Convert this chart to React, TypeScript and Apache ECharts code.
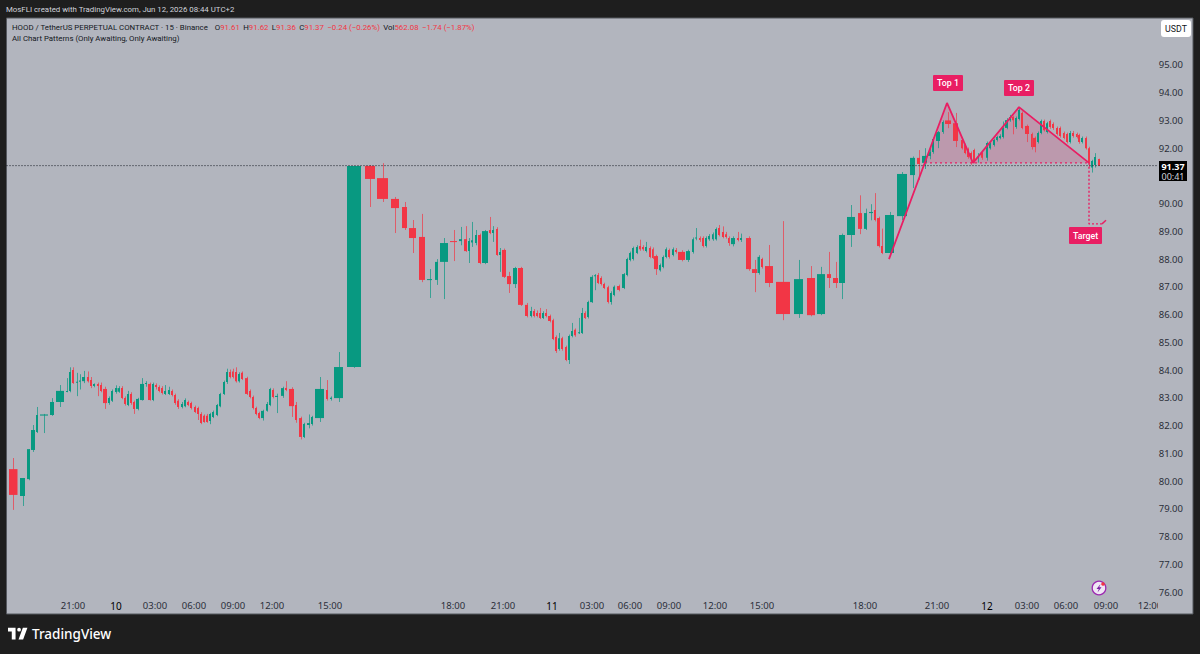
import React, { useEffect, useRef } from "react";
import * as echarts from "echarts";

type Row = [number, number, number, number, number, number];
// Each row: cumulative volume at open, cumulative volume at close, open, high, low, close
const sessionJun9: Row[] = [
  [9, 17.5, 80.43, 80.83, 78.96, 79.5], [20, 25, 79.46, 80.11, 79.1, 80.11], [27, 30, 80.07, 81.15, 80.03, 81.15],
  [31, 35, 81.12, 82.02, 81.05, 81.84], [36, 38, 81.77, 82.67, 81.73, 82.38], [40, 48, 82.36, 82.42, 81.73, 82.4],
  [50, 54, 82.38, 82.99, 82.35, 82.85], [56, 64, 82.85, 83.46, 82.67, 83.25], [66, 68, 83.21, 83.71, 83.2, 83.25],
  [69, 71, 83.25, 84.1, 83.2, 83.93], [72, 74, 84.0, 84.1, 83.5, 83.53], [76, 78, 83.55, 83.9, 83.06, 83.58],
  [79, 80.5, 83.58, 83.85, 83.3, 83.62], [82, 85, 83.6, 83.97, 83.53, 83.75], [87, 89, 83.75, 83.95, 83.55, 83.6],
  [90, 92, 83.64, 83.75, 83.35, 83.43], [93, 95, 83.43, 83.52, 83.38, 83.5], [97, 99, 83.5, 83.55, 83.06, 83.43],
  [100, 102, 83.46, 83.55, 83.2, 83.25], [103, 107, 83.32, 83.4, 82.6, 82.81], [108, 110, 82.81, 83.05, 82.75, 82.99],
  [111, 113, 82.89, 83.3, 82.85, 83.25], [115, 117, 83.21, 83.45, 83.15, 83.35], [117.5, 120, 83.22, 83.42, 83.18, 83.35],
];
const sessionJun10a: Row[] = [
  [121, 123, 83.35, 83.42, 82.95, 82.99], [124, 126, 82.99, 83.05, 82.72, 82.78], [127, 129, 82.74, 83.25, 82.7, 83.14],
  [130, 132, 83.14, 83.2, 82.75, 82.81], [133, 135, 82.85, 82.9, 82.42, 82.6], [136, 139, 82.6, 83.0, 82.55, 82.96],
  [140, 144, 82.92, 83.71, 82.9, 83.5], [145, 147, 83.5, 83.6, 83.4, 83.53], [148, 151, 83.5, 83.55, 82.9, 82.92],
  [152, 154, 82.92, 83.55, 82.88, 83.5], [155, 157, 83.46, 83.52, 83.3, 83.39], [158, 160, 83.39, 83.45, 83.2, 83.25],
  [161, 163, 83.35, 83.42, 83.12, 83.17], [164, 166, 83.14, 83.46, 83.1, 83.25], [168, 170, 83.14, 83.4, 83.1, 83.28],
  [171, 173, 83.25, 83.3, 83.05, 83.1], [174, 176, 83.1, 83.15, 82.75, 82.81], [177, 179, 82.89, 82.95, 82.6, 82.67],
  [181, 183, 82.67, 82.85, 82.62, 82.78], [184, 186, 82.7, 82.98, 82.66, 82.92], [187, 189, 82.85, 82.9, 82.7, 82.74],
  [190, 192, 82.81, 82.86, 82.58, 82.63], [194, 196, 82.67, 82.72, 82.45, 82.49], [197, 199, 82.63, 82.68, 82.2, 82.42],
  [200, 202, 82.42, 82.48, 82.05, 82.09], [203, 205, 82.35, 82.4, 82.1, 82.13], [206, 208, 82.35, 82.42, 82.1, 82.13],
  [209, 211, 82.16, 82.46, 82.05, 82.42], [212, 214, 82.31, 82.54, 82.27, 82.49], [216, 218, 82.38, 82.78, 82.34, 82.74],
  [219, 221, 82.7, 83.18, 82.66, 83.14], [223, 225, 83.14, 83.62, 83.1, 83.57], [226, 228, 83.57, 84.05, 83.5, 83.93],
  [229, 231, 83.93, 84.02, 83.7, 83.75], [232, 233.5, 83.95, 84.05, 83.7, 83.75], [235, 237, 83.93, 84.1, 83.55, 83.6],
  [238, 240, 83.6, 83.92, 83.55, 83.86], [241, 243, 83.9, 83.95, 83.64, 83.68], [245, 248, 83.71, 83.76, 83.1, 83.14],
  [249, 251, 83.25, 83.3, 82.98, 83.03], [252, 254, 83.03, 83.08, 82.58, 82.63], [255, 257, 82.63, 82.68, 82.37, 82.42],
  [258, 260, 82.45, 82.5, 82.23, 82.27], [261, 264, 82.27, 82.57, 82.18, 82.53], [266, 268, 82.53, 82.85, 82.5, 82.78],
  [269, 271, 82.74, 83.36, 82.7, 83.32], [272, 274, 83.28, 83.34, 82.98, 83.03], [275, 278, 83.03, 83.15, 82.45, 83.07],
  [281, 284, 83.07, 83.4, 83.0, 83.35], [285, 287, 83.35, 83.6, 83.24, 83.28], [289, 294, 83.32, 83.38, 82.31, 82.7],
  [295, 297, 82.74, 82.85, 82.1, 82.2], [299, 302, 82.27, 82.32, 81.5, 81.59], [303, 305, 81.59, 82.1, 81.55, 82.06],
  [307, 310, 82.02, 82.4, 81.9, 82.09], [311, 313, 82.06, 82.35, 82.0, 82.31], [315, 324, 82.27, 83.75, 82.13, 83.32],
  [326, 328, 83.28, 83.64, 82.9, 82.96], [330, 332, 82.96, 83.05, 82.9, 83.0], [334, 343, 82.99, 84.65, 82.85, 84.11],
  [347, 361, 84.11, 91.36, 84.08, 91.36], [365, 375, 91.36, 91.39, 89.88, 90.89], [377, 388, 90.92, 91.46, 90.06, 90.17],
  [391, 399, 90.17, 90.24, 88.94, 89.84], [402, 407, 89.88, 90.06, 89.05, 89.12], [409, 416, 89.12, 89.41, 88.22, 88.76],
  [419, 425, 88.8, 89.63, 87.17, 87.25], [427, 432, 87.25, 87.64, 86.6, 87.28], [435, 438, 87.25, 88.0, 87.07, 87.9],
  [440, 448, 87.9, 88.76, 86.56, 88.58], [450, 457, 88.65, 89.05, 87.93, 88.62], [459, 462, 88.65, 89.16, 88.5, 88.72],
  [464, 467, 88.72, 89.19, 88.26, 88.29], [468, 470, 88.29, 88.76, 87.86, 88.65], [471, 473, 88.6, 89.34, 88.44, 88.68],
  [475, 477, 88.58, 89.05, 88.5, 88.87], [478, 481, 88.87, 88.92, 87.82, 87.86], [482, 488, 87.86, 89.05, 87.82, 89.01],
  [489, 491, 89.05, 89.52, 88.9, 88.94], [492, 494, 88.94, 89.19, 88.62, 89.05], [496, 498, 89.09, 89.15, 88.12, 88.15],
  [499, 501, 88.15, 88.4, 87.54, 88.26], [502, 506, 88.33, 88.38, 87.32, 87.36], [507, 511, 87.39, 87.54, 86.78, 87.1],
  [513, 517, 87.1, 87.72, 86.96, 87.68], [518, 523, 87.68, 87.72, 86.31, 86.35], [525, 528, 86.35, 86.42, 85.9, 85.95],
  [530, 532, 85.95, 86.28, 85.9, 86.13], [533, 535, 86.13, 86.2, 85.9, 85.95], [536, 538, 86.06, 86.15, 85.9, 85.95],
  [539, 541, 86.06, 86.24, 85.84, 85.88], [542, 544, 85.88, 86.12, 85.84, 86.06], [545, 547, 86.06, 86.2, 85.9, 85.95],
  [548, 551, 85.95, 86.0, 85.72, 85.77],
];
const sessionJun11: Row[] = [
  [552, 554, 85.8, 85.85, 85.08, 85.12], [555, 557, 85.19, 85.25, 84.62, 84.69], [558, 560, 84.76, 85.34, 84.7, 85.15],
  [561, 563, 85.15, 85.2, 84.7, 84.76], [565, 567, 84.83, 84.88, 84.32, 84.36], [568, 570, 84.36, 85.28, 84.22, 85.23],
  [571, 573, 85.23, 85.7, 85.18, 85.41], [574, 576, 85.45, 85.5, 85.2, 85.26], [578, 580, 85.34, 85.88, 85.3, 85.36],
  [581, 583, 85.34, 86.24, 85.3, 86.06], [584, 585.5, 86.06, 86.12, 85.84, 85.88], [587, 589, 85.91, 86.5, 85.86, 86.45],
  [590, 593, 86.45, 87.42, 86.42, 87.36], [594, 596, 87.38, 87.46, 86.88, 87.42], [597, 599, 87.43, 87.5, 87.1, 87.14],
  [600, 602, 87.32, 87.38, 87.05, 87.1], [603, 605, 87.1, 87.15, 86.92, 86.96], [607, 609, 86.99, 87.04, 86.4, 86.45],
  [610, 612, 86.45, 86.84, 86.36, 86.78], [613, 615, 86.71, 87.05, 86.66, 87.0], [617, 620, 87.03, 87.08, 86.84, 86.89],
  [622, 625, 86.96, 87.5, 86.92, 87.46], [626, 628, 87.43, 88.05, 87.38, 88.0], [629, 631, 87.97, 88.27, 87.92, 88.22],
  [632, 634, 88.0, 88.45, 87.95, 88.4], [636, 638, 88.22, 88.5, 88.18, 88.44], [639, 641, 88.47, 88.7, 88.3, 88.36],
  [642, 644, 88.44, 88.5, 88.3, 88.36], [645, 647, 88.29, 88.62, 88.24, 88.44], [649, 651, 88.4, 88.46, 88.03, 88.08],
  [652, 653.5, 88.36, 88.42, 88.0, 88.04], [654, 658, 88.11, 88.16, 87.43, 87.64], [659, 661, 87.6, 87.84, 87.55, 87.79],
  [662, 664, 87.72, 88.13, 87.67, 88.08], [665, 667, 88.08, 88.42, 88.03, 88.36], [668, 670, 88.33, 88.38, 88.02, 88.08],
  [672, 674, 88.15, 88.42, 88.1, 88.36], [675, 677, 88.33, 88.4, 88.2, 88.26], [678, 685, 88.26, 88.32, 87.92, 87.97],
  [686, 690, 87.97, 88.34, 87.9, 88.29], [692, 694, 88.26, 88.78, 88.2, 88.72], [695, 697, 88.74, 89.12, 88.68, 88.78],
  [699, 700.5, 88.76, 88.82, 88.62, 88.69], [702, 704, 88.76, 88.82, 88.42, 88.47], [705, 707, 88.47, 88.82, 88.42, 88.76],
  [708, 710, 88.72, 88.9, 88.66, 88.83], [712, 713.5, 88.72, 88.96, 88.66, 88.9], [715, 717, 88.72, 89.14, 88.67, 89.09],
  [718, 720, 89.12, 89.23, 88.82, 88.87], [722, 724, 88.98, 89.18, 88.75, 88.8], [725, 727, 88.9, 88.98, 88.74, 88.8],
  [728, 729.5, 88.76, 88.82, 88.48, 88.58], [731, 735, 88.54, 88.82, 88.46, 88.76], [737, 739, 88.76, 88.98, 88.64, 88.69],
  [740, 742, 88.69, 88.92, 88.62, 88.76], [746, 751, 88.76, 88.82, 87.58, 87.64], [752, 757, 87.64, 87.97, 86.81, 87.5],
  [757.5, 760, 87.5, 88.14, 87.44, 88.08], [761, 763, 88.0, 88.05, 87.66, 87.72], [765, 773, 87.75, 88.51, 86.99, 87.14],
  [776, 790, 87.18, 89.37, 85.8, 86.02], [794, 803, 86.02, 87.97, 85.88, 87.28], [807, 815, 87.32, 87.75, 85.94, 85.98],
  [817, 825, 86.02, 87.72, 85.98, 87.46], [827, 831, 87.46, 88.26, 86.96, 87.32], [833, 838, 87.32, 87.9, 86.96, 87.14],
  [839, 845, 87.14, 88.92, 86.56, 88.87], [847, 855, 88.87, 89.95, 88.44, 89.52], [858, 862, 89.66, 90.3, 88.9, 89.09],
  [864, 867, 89.09, 89.82, 89.05, 89.66], [869, 873, 89.66, 89.98, 89.4, 89.7], [874, 876, 89.77, 90.38, 89.36, 89.41],
  [877, 880, 89.48, 89.53, 88.42, 88.47], [881, 883, 88.47, 89.1, 88.18, 88.22],
];
const sessionJun12: Row[] = [
  [885, 894, 88.22, 89.7, 88.18, 89.59], [897, 907, 89.55, 91.14, 89.41, 91.07], [910, 915, 91.03, 91.7, 90.56, 91.65],
  [917, 920, 91.65, 91.93, 90.85, 91.43], [922, 927, 91.47, 92.0, 91.25, 91.72], [928, 931, 91.72, 92.05, 91.6, 91.86],
  [932, 934, 91.86, 92.38, 91.8, 92.33], [936, 940, 92.26, 92.62, 92.0, 92.58], [942, 943.5, 92.58, 93.0, 92.52, 92.94],
  [945, 951, 93.0, 93.3, 92.72, 92.87], [953, 958, 92.9, 93.27, 92.04, 92.26], [961, 963, 92.29, 92.34, 91.95, 92.0],
  [964, 966, 92.11, 92.16, 91.78, 91.83], [967, 969, 91.97, 92.02, 91.62, 91.68], [970, 972, 91.83, 91.88, 91.4, 91.65],
  [973, 975, 91.93, 91.98, 91.45, 91.54], [977, 979, 91.66, 91.82, 91.48, 91.69], [981, 983, 91.83, 91.9, 91.58, 91.65],
  [986, 988, 91.65, 92.24, 91.55, 92.19], [989, 991, 92.0, 92.24, 91.95, 92.19], [993, 995, 92.11, 92.34, 92.06, 92.29],
  [996, 998, 92.29, 92.45, 92.24, 92.4], [999, 1001, 92.37, 92.5, 92.32, 92.44], [1002, 1004, 92.4, 92.96, 92.35, 92.73],
  [1005, 1008, 92.73, 93.08, 92.68, 93.01], [1009, 1011, 93.01, 93.2, 92.95, 93.12], [1012, 1014, 93.12, 93.17, 92.5, 93.01],
  [1015, 1017, 92.76, 93.14, 92.7, 93.09], [1018, 1020, 93.05, 93.48, 93.0, 93.38], [1021, 1023, 93.27, 93.32, 92.68, 92.73],
  [1025, 1029, 92.8, 92.85, 92.22, 92.51], [1031, 1032.5, 92.51, 92.56, 91.95, 92.04], [1033, 1036, 92.37, 92.42, 91.85, 92.04],
  [1037, 1039, 92.22, 92.6, 92.17, 92.55], [1040, 1042, 92.55, 93.03, 92.5, 92.98], [1043, 1045, 92.98, 93.03, 92.6, 92.65],
  [1046, 1048, 92.58, 92.95, 92.53, 92.9], [1049, 1051, 92.98, 93.03, 92.7, 92.76], [1052, 1054, 92.87, 92.93, 92.66, 92.73],
  [1056, 1058, 92.73, 92.78, 92.46, 92.51], [1059, 1061, 92.73, 92.78, 92.38, 92.44], [1063, 1064.5, 92.55, 92.6, 92.32, 92.37],
  [1066, 1068, 92.51, 92.56, 92.17, 92.22], [1069, 1071, 92.22, 92.62, 92.17, 92.55], [1072, 1074, 92.55, 92.62, 92.38, 92.44],
  [1076, 1077.5, 92.51, 92.56, 92.35, 92.4], [1078, 1080, 92.47, 92.52, 92.16, 92.22], [1081, 1083, 92.22, 92.42, 92.17, 92.37],
  [1085, 1087, 92.37, 92.42, 91.95, 92.0], [1088, 1090, 92.0, 92.05, 91.32, 91.47], [1091, 1093, 91.3, 91.58, 91.12, 91.54],
  [1094, 1096, 91.39, 91.82, 91.3, 91.68], [1098, 1100, 91.61, 91.62, 91.36, 91.37],
];
const candles: Row[] = [...sessionJun9, ...sessionJun10a, ...sessionJun11, ...sessionJun12];

// 96.00 and 91.00 sit behind the currency button and the last-price box in the reference.
const priceTicks = [95, 94, 93, 92, 90, 89, 88, 87, 86, 85, 84, 83, 82, 81, 80, 79, 78, 77, 76];
const timeTickValues = [73, 116, 155, 194, 233, 272, 330, 453, 503, 552, 592, 630, 669, 715, 762, 865, 937, 987, 1027, 1066, 1106, 1150];
const timeTickLabels = ["21:00", "10", "03:00", "06:00", "09:00", "12:00", "15:00", "18:00", "21:00", "11", "03:00", "06:00", "09:00", "12:00", "15:00", "18:00", "21:00", "12", "03:00", "06:00", "09:00", "12:00"];
const dayLabels = ["10", "11", "12"];

const lastPrice = 91.37;
const patternVol = [889, 947, 973, 1019, 1089];
const patternPrice = [88.0, 93.63, 91.47, 93.48, 91.47];
const neckStartVol = 925;
const targetPrice = 89.27;
const targetVol = [1089, 1089, 1102, 1106];
const targetPrices = [91.47, targetPrice, targetPrice, 89.4];

const UP = "#089981";
const DOWN = "#f23645";
const PINK = "#e91e63";
const PLOT = "#b2b5be";
const FRAME = "#1e1e1e";
const FONT = '"Noto Sans", "Open Sans", sans-serif';
const SMALL = 'Roboto, "Noto Sans", sans-serif';

echarts.graphic.registerShape(
  "tvLogo",
  echarts.graphic.extendPath("M14 6H0v7h7v15h7V6zM28 28h-8.5l8-22H36l-8 22zM24 9.5a3.5 3.5 0 1 1-7 0a3.5 3.5 0 1 1 7 0z", {}) as any
);

function renderCandle(params: any, api: any) {
  const start = api.value(0), end = api.value(1);
  const o = api.value(2), h = api.value(3), l = api.value(4), c = api.value(5);
  const left = api.coord([start, o])[0];
  const right = api.coord([end, o])[0];
  const mid = Math.round((left + right) / 2) + 0.5;
  const yo = api.coord([start, o])[1], yc = api.coord([start, c])[1];
  const yh = api.coord([start, h])[1], yl = api.coord([start, l])[1];
  const color = c >= o ? UP : DOWN;
  const top = Math.min(yo, yc);
  const height = Math.max(Math.abs(yo - yc), 1);
  return {
    type: "group",
    children: [
      { type: "line", shape: { x1: mid, y1: yh, x2: mid, y2: yl }, style: { stroke: color, lineWidth: 1, opacity: 0.7 } },
      { type: "rect", shape: { x: left, y: top, width: Math.max(right - left, 1.5), height }, style: { fill: color } },
    ],
  };
}

function renderPatternFill(params: any, api: any) {
  const pts = [
    [neckStartVol, patternPrice[2]],
    [patternVol[1], patternPrice[1]],
    [patternVol[2], patternPrice[2]],
    [patternVol[3], patternPrice[3]],
    [patternVol[4], patternPrice[4]],
  ].map((p) => api.coord(p));
  return { type: "polygon", shape: { points: pts }, style: { fill: "rgba(233,30,99,0.18)" } };
}

function labelBox(x: number, y: number, w: number, h: number, text: string) {
  return [
    { type: "rect", z: 40, shape: { x, y, width: w, height: h, r: 1 }, style: { fill: PINK } },
    { type: "text", z: 41, x: x + w / 2, y: y + h / 2, style: { text, fill: "#fff", font: `500 8.8px ${SMALL}`, align: "center", verticalAlign: "middle" } },
  ];
}

export default function App() {
  const ref = useRef<HTMLDivElement>(null);
  useEffect(() => {
    document.body.style.margin = "0";
    document.body.style.background = FRAME;
    const chart = echarts.init(ref.current!, undefined, { renderer: "svg" });
    const ohlc = (s: string) => `{r|${s}}`;
    chart.setOption({
      animation: false,
      backgroundColor: FRAME,
      grid: { left: 0, right: 0, top: 9.46, height: 610.28, containLabel: false },
      xAxis: {
        type: "value", min: 0, max: 1200, z: 3,
        splitLine: { show: false }, axisLine: { show: false }, axisTick: { show: false },
        axisLabel: {
          inside: true, margin: 9, customValues: timeTickValues, hideOverlap: false, showMinLabel: true, showMaxLabel: true,
          formatter: (v: number) => {
            const t = timeTickLabels[timeTickValues.indexOf(v)];
            return dayLabels.includes(t) ? `{d|${t}}` : `{t|${t}}`;
          },
          rich: {
            t: { fontSize: 9.5, color: "#2a2e39", fontFamily: FONT },
            d: { fontSize: 10, color: "#000000", fontFamily: FONT },
          },
        },
      },
      yAxis: {
        type: "value", position: "right", min: 75, max: 97, interval: 1, z: 3,
        splitLine: { show: false }, axisLine: { show: false }, axisTick: { show: false },
        axisLabel: {
          inside: true, margin: 17, showMinLabel: false, showMaxLabel: false,
          color: "#2a2e39", fontSize: 9.5, fontFamily: FONT,
          formatter: (v: number) => (priceTicks.includes(v) ? v.toFixed(2) : ""),
        },
      },
      series: [
        {
          type: "custom", renderItem: renderPatternFill, data: [[patternVol[1], patternPrice[1]]], z: 1, silent: true, clip: false,
        },
        {
          type: "custom", renderItem: renderCandle, data: candles, z: 2, silent: true, clip: false,
          dimensions: ["s", "e", "o", "h", "l", "c"], encode: { x: [0, 1], y: [2, 3, 4, 5] },
        },
        {
          type: "line", data: patternVol.map((v, i) => [v, patternPrice[i]]), showSymbol: false, z: 3, silent: true,
          lineStyle: { color: PINK, width: 1.8 },
        },
        {
          type: "line", data: [[neckStartVol, patternPrice[2]], [patternVol[4], patternPrice[4]]], showSymbol: false, z: 3, silent: true,
          lineStyle: { color: PINK, width: 1.2, type: [2, 3] },
        },
        {
          type: "line", data: targetVol.slice(0, 3).map((v, i) => [v, targetPrices[i]]), showSymbol: false, z: 3, silent: true,
          lineStyle: { color: PINK, width: 1.4, type: [2, 2] },
        },
        {
          type: "line", data: targetVol.slice(2).map((v, i) => [v, targetPrices[i + 2]]), showSymbol: false, z: 3, silent: true,
          lineStyle: { color: PINK, width: 1.4 },
        },
        {
          type: "line", data: [[6.5, lastPrice], [1157, lastPrice]], showSymbol: false, z: 2, silent: true,
          lineStyle: { color: "#131722", width: 1, type: [1, 2] },
        },
      ],
      graphic: [
        { type: "rect", z: -1, shape: { x: 6.5, y: 18, width: 1186.5, height: 596 }, style: { fill: PLOT, stroke: "#55585f", lineWidth: 1 } },
        { type: "rect", z: 30, shape: { x: 1158, y: 597, width: 34, height: 16 }, style: { fill: PLOT } },
        { type: "text", z: 40, x: 6, y: 9, style: { text: "MosFLI created with TradingView.com, Jun 12, 2026 08:44 UTC+2", fill: "#d1d4dc", font: `7.85px ${SMALL}`, verticalAlign: "middle" } },
        {
          type: "text", z: 40, x: 12, y: 27,
          style: {
            text: `{k|HOOD / TetherUS PERPETUAL CONTRACT · 15 · Binance}  {k|O}${ohlc("91.61")} {k|H}${ohlc("91.62")} {k|L}${ohlc("91.36")} {k|C}${ohlc("91.37")} ${ohlc("−0.24 (−0.26%)")} {k|Vol}${ohlc("562.08")} ${ohlc("−1.74 (−1.87%)")}`,
            verticalAlign: "middle",
            rich: { k: { fill: "#131722", font: `7.85px ${SMALL}` }, r: { fill: DOWN, font: `7.85px ${SMALL}` } },
          },
        },
        { type: "text", z: 40, x: 12, y: 38, style: { text: "All Chart Patterns (Only Awaiting, Only Awaiting)", fill: "#131722", font: `7.85px ${SMALL}`, verticalAlign: "middle" } },
        ...labelBox(933, 75, 30, 16, "Top 1"),
        ...labelBox(1004, 80, 30, 16, "Top 2"),
        ...labelBox(1069, 227, 33, 17, "Target"),
        { type: "rect", z: 40, shape: { x: 1161, y: 20, width: 30, height: 17, r: 3 }, style: { fill: "#ffffff" } },
        { type: "text", z: 41, x: 1176, y: 29, style: { text: "USDT", fill: "#131722", font: `8.8px ${SMALL}`, align: "center", verticalAlign: "middle" } },
        { type: "rect", z: 40, shape: { x: 1159, y: 161, width: 28, height: 20 }, style: { fill: "#000000" } },
        {
          type: "text", z: 41, x: 1173, y: 171,
          style: {
            text: "{a|91.37}\n{b|00:41}", align: "center", verticalAlign: "middle",
            rich: {
              a: { fill: "#ffffff", font: `bold 9px ${FONT}`, lineHeight: 10, align: "center" },
              b: { fill: "#d1d4dc", font: `9px ${FONT}`, lineHeight: 10, align: "center" },
            },
          },
        },
        { type: "circle", z: 40, shape: { cx: 1099, cy: 588, r: 6.8 }, style: { fill: "#f0e6f5", stroke: "#9c27b0", lineWidth: 1.3 } },
        { type: "polygon", z: 41, shape: { points: [[1100.5, 584], [1096.5, 589], [1098.8, 589], [1097.5, 592.5], [1101.5, 587.2], [1099.2, 587.2]] }, style: { fill: "#7b1fa2" } },
        { type: "circle", z: 42, shape: { cx: 1103, cy: 584, r: 1.8 }, style: { fill: "#f23645" } },
        { type: "tvLogo", z: 40, x: 8, y: 624.5, scaleX: 0.54, scaleY: 0.54, style: { fill: "#ffffff" } },
        { type: "text", z: 40, x: 32, y: 634, style: { text: "TradingView", fill: "#ffffff", font: `500 13.5px ${FONT}`, verticalAlign: "middle" } },
      ],
    });
    return () => chart.dispose();
  }, []);
  return <div ref={ref} style={{ width: 1200, height: 654 }} />;
}
